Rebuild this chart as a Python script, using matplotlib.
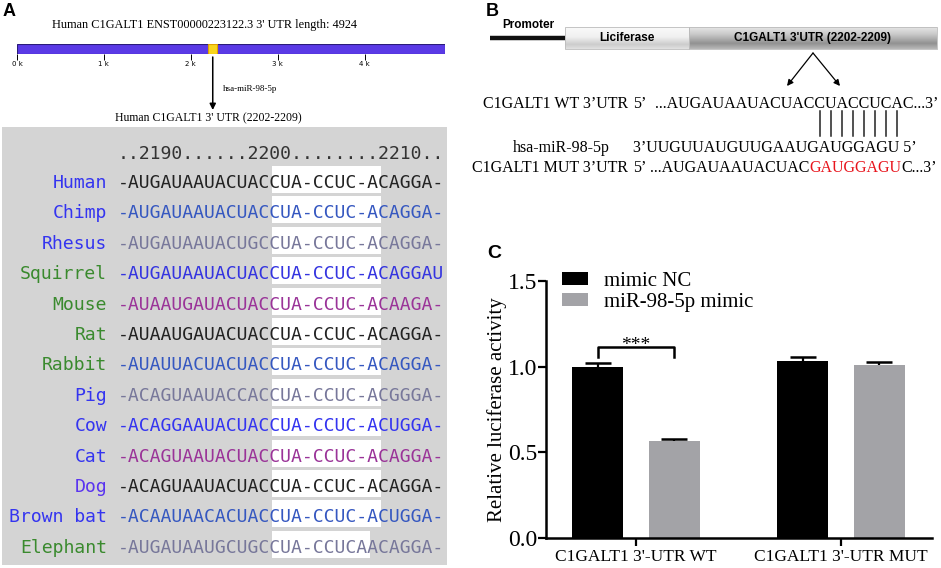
import numpy as np
import matplotlib
matplotlib.use("Agg")
import matplotlib.pyplot as plt
from matplotlib.patches import Rectangle

# ---- panel A data
utr_length = 4924
site_start, site_end = 2202, 2209
utr_ticks = [0, 1000, 2000, 3000, 4000]
utr_tick_labels = ["0 k", "1 k", "2 k", "3 k", "4 k"]

position_header = "..2190......2200........2210.."
species = ["Human", "Chimp", "Rhesus", "Squirrel", "Mouse", "Rat", "Rabbit",
           "Pig", "Cow", "Cat", "Dog", "Brown bat", "Elephant"]
sequences = [
    "-AUGAUAAUACUACCUA-CCUC-ACAGGA-",
    "-AUGAUAAUACUACCUA-CCUC-ACAGGA-",
    "-AUGAUAAUACUGCCUA-CCUC-ACAGGA-",
    "-AUGAUAAUACUACCUA-CCUC-ACAGGAU",
    "-AUAAUGAUACUACCUA-CCUC-ACAAGA-",
    "-AUAAUGAUACUACCUA-CCUC-ACAGGA-",
    "-AUAUUACUACUACCUA-CCUC-ACAGGA-",
    "-ACAGUAAUACCACCUA-CCUC-ACGGGA-",
    "-ACAGGAAUACUACCUA-CCUC-ACUGGA-",
    "-ACAGUAAUACUACCUA-CCUC-ACAGGA-",
    "-ACAGUAAUACUACCUA-CCUC-ACAGGA-",
    "-ACAAUAACACUACCUA-CCUC-ACUGGA-",
    "-AUGAUAAUGCUGCCUA-CCUCAACAGGA-",
]
highlight_start = 14
highlight_end = [24, 24, 24, 24, 24, 24, 24, 24, 24, 24, 24, 24, 23]
name_colors = ["#3434f0", "#3434f0", "#3434f0", "#3a8a2e", "#3a8a2e", "#3a8a2e",
               "#3a8a2e", "#3434f0", "#3434f0", "#3434f0", "#5a34f0", "#3434f0",
               "#3a8a2e"]
seq_colors = ["#222222", "#3557c0", "#77779a", "#3434e0", "#9a3398", "#222222",
              "#3557c0", "#77779a", "#3434f0", "#9a3398", "#222222", "#3557c0",
              "#77779a"]

# ---- panel B data
wt_prefix, wt_site, wt_suffix = "...AUGAUAAUACUAC", "CUACCUCA", "C...3\u2019"
mir_prefix, mir_site, mir_suffix = "3\u2019UUGUUAUGUUGAAU", "GAUGGAGU", " 5\u2019"
mut_prefix, mut_site, mut_suffix = "...AUGAUAAUACUAC", "GAUGGAGU", "C...3\u2019"

# ---- panel C data
groups = ["C1GALT1 3'-UTR WT", "C1GALT1 3'-UTR MUT"]
series = ["mimic NC", "miR-98-5p mimic"]
nc_mean = [1.00, 1.035]
nc_err = [0.02, 0.022]
mimic_mean = [0.565, 1.01]
mimic_err = [0.015, 0.02]

W, H = 941, 568
fig = plt.figure(figsize=(W / 100, H / 100), dpi=100)
renderer = fig.canvas.get_renderer()

# overlay axes in pixel units for panels A and B
ov = fig.add_axes([0, 0, 1, 1])
ov.set_xlim(0, W)
ov.set_ylim(H, 0)
ov.axis("off")

mono = "DejaVu Sans Mono"
serif = "Liberation Serif"
sans = "Liberation Sans"


def text_w(s, **kw):
    t = ov.text(0, 0, s, **kw)
    w = t.get_window_extent(renderer).width
    t.remove()
    return w


# ================= panel A =================
ov.text(3, 11, "A", fontsize=13, fontweight="bold", family=sans, va="center")
ov.text(205, 25, "Human C1GALT1 ENST00000223122.3 3' UTR length: 4924",
        fontsize=8.8, family=serif, ha="center", va="center")

bar_x0, bar_x1 = 17, 445
ax_utr = fig.add_axes([bar_x0 / W, 1 - 54 / H, (bar_x1 - bar_x0) / W, 10 / H])
ax_utr.set_xlim(0, utr_length)
ax_utr.set_ylim(0, 1)
ax_utr.barh(0.5, utr_length, height=1, color="#5a3ae6", edgecolor="#2a1c7a", lw=0.8)
box_w = 100
ax_utr.barh(0.5, box_w, left=site_start, height=1, color="#f8d51c",
            edgecolor="#e0a000", lw=0.8)
for s in ax_utr.spines.values():
    s.set_visible(False)
ax_utr.set_yticks([])
ax_utr.set_xticks(utr_ticks)
ax_utr.set_xticklabels(utr_tick_labels, family="DejaVu Sans", fontsize=5)
ax_utr.tick_params(axis="x", length=4, width=0.7, pad=1)

arrow_x = bar_x0 + (site_start + box_w / 2) / utr_length * (bar_x1 - bar_x0)
ov.annotate("", xy=(arrow_x, 110), xytext=(arrow_x, 57),
            arrowprops=dict(arrowstyle="-|>", color="black", lw=1.1,
                            mutation_scale=9, shrinkA=0, shrinkB=0))
ov.text(223, 89, "hsa-miR-98-5p", fontsize=6.5, family=serif, va="center")
ov.text(208, 118, "Human C1GALT1 3' UTR (2202-2209)", fontsize=8.5,
        family=serif, ha="center", va="center")

ov.add_patch(Rectangle((2, 127), 445, 438, facecolor="#d4d4d4", edgecolor="none"))

seq_x = 118
char_w = 10.97
row0, row_step = 183, 30.4
fs_mono = 13.1
ov.text(seq_x, 154, position_header, family=mono, fontsize=fs_mono,
        color="#333333", va="center")
for i, (name, seq) in enumerate(zip(species, sequences)):
    y = row0 + i * row_step
    hx0 = seq_x + highlight_start * char_w
    hx1 = seq_x + highlight_end[i] * char_w
    ov.add_patch(Rectangle((hx0, y - 17), hx1 - hx0, 27, facecolor="white",
                           edgecolor="none"))
    ov.text(107, y, name, family=mono, fontsize=fs_mono, color=name_colors[i],
            ha="right", va="center")
    ov.text(seq_x, y, seq, family=mono, fontsize=fs_mono, color=seq_colors[i],
            va="center")

# ================= panel B =================
ov.text(486, 11, "B", fontsize=13, fontweight="bold", family=sans, va="center")
ov.plot([490, 565], [38, 38], color="#111111", lw=3.2, solid_capstyle="butt")
ov.text(528, 25, "Promoter", fontsize=8.5, fontweight="bold", family=sans,
        ha="center", va="center")


def grad_box(x0, x1, y0, y1, stops, vals):
    n = 60
    g = np.interp(np.linspace(0, 1, n), stops, vals)
    img = np.repeat(g[:, None], 2, axis=1)
    ov.imshow(img, cmap="gray", vmin=0, vmax=1, extent=(x0, x1, y1, y0),
              origin="upper", aspect="auto", interpolation="bilinear", zorder=1)
    ov.add_patch(Rectangle((x0, y0), x1 - x0, y1 - y0, facecolor="none",
                           edgecolor="#bbbbbb", lw=0.6, zorder=2))


grad_box(565, 689, 27, 49, [0, 0.45, 0.8, 1], [0.98, 0.94, 0.80, 0.88])
grad_box(689, 937, 27, 49, [0, 0.3, 0.75, 1], [0.90, 0.80, 0.57, 0.72])
ov.set_xlim(0, W)
ov.set_ylim(H, 0)
ov.text(627, 38, "Liciferase", fontsize=8.5, fontweight="bold", family=sans,
        ha="center", va="center", zorder=3)
ov.text(813, 38, "C1GALT1 3'UTR (2202-2209)", fontsize=8.5, fontweight="bold",
        family=sans, ha="center", va="center", zorder=3)
for xe in (787, 840):
    ov.annotate("", xy=(xe, 86), xytext=(813, 53),
                arrowprops=dict(arrowstyle="-|>", color="black", lw=0.9,
                                mutation_scale=9, shrinkA=0, shrinkB=0))

fs_b = 11.5
tkw = dict(family=serif, fontsize=fs_b, va="center")

y_wt, y_mir, y_mut = 104, 148, 168
ov.text(483, y_wt, "C1GALT1 WT 3\u2019UTR", **tkw)
ov.text(633, y_wt, "5\u2019", **tkw)
x0 = 655
ov.text(x0, y_wt, wt_prefix + wt_site + wt_suffix, **tkw)
for k in range(len(wt_site)):
    end = text_w(wt_prefix + wt_site[:k + 1], **tkw)
    cx = x0 + end - text_w(wt_site[k], **tkw) / 2
    ov.plot([cx, cx], [111, 136], color="#222222", lw=1.1)

ov.text(513, y_mir, "hsa-miR-98-5p", **tkw)
ov.text(633, y_mir, mir_prefix + mir_site + mir_suffix, **tkw)

ov.text(472, y_mut, "C1GALT1 MUT 3\u2019UTR", **tkw)
ov.text(633, y_mut, "5\u2019", **tkw)
x0 = 650
ov.text(x0, y_mut, mut_prefix, **tkw)
xs = x0 + text_w(mut_prefix + mut_site, **tkw) - text_w(mut_site, **tkw)
ov.text(xs, y_mut, mut_site, color="#e8141c", **tkw)
xs = x0 + text_w(mut_prefix + mut_site + mut_suffix, **tkw) - text_w(mut_suffix, **tkw)
ov.text(xs, y_mut, mut_suffix, **tkw)

# ================= panel C =================
ov.text(487, 253, "C", fontsize=14, fontweight="bold", family=sans, va="center")

axc = fig.add_axes([546 / W, 1 - 538 / H, (932 - 546) / W, (538 - 281) / H])
axc.set_facecolor("none")
x = np.arange(len(groups))
off, bw, capw = 0.187, 0.249, 0.127
b1 = axc.bar(x - off, nc_mean, bw, color="black", label=series[0])
b2 = axc.bar(x + off, mimic_mean, bw, color="#a3a3a7", label=series[1])
for xp, m, e in ((x - off, nc_mean, nc_err), (x + off, mimic_mean, mimic_err)):
    top = np.array(m) + np.array(e)
    axc.vlines(xp, m, top, color="black", lw=1.6)
    axc.hlines(top, xp - capw / 2, xp + capw / 2, color="black", lw=1.8)

# significance bracket for WT group
sig_top, sig_leg = 1.115, 1.055
axc.plot([x[0] - off, x[0] - off, x[0] + off, x[0] + off],
         [sig_leg, sig_top, sig_top, sig_leg], color="black", lw=1.8)
axc.text(x[0], sig_top - 0.04, "***", family=serif, fontsize=14,
         ha="center", va="bottom")

axc.set_xlim(-0.439, 1.444)
axc.set_ylim(0, 1.5)
axc.set_yticks([0, 0.5, 1.0, 1.5])
axc.set_yticklabels(["0.0", "0.5", "1.0", "1.5"], family=serif, fontsize=17)
axc.set_xticks(x)
axc.set_xticklabels(groups, family=serif, fontsize=12.5)
axc.spines["top"].set_visible(False)
axc.spines["right"].set_visible(False)
axc.spines["left"].set_linewidth(1.8)
axc.spines["bottom"].set_linewidth(1.8)
axc.tick_params(axis="y", length=6, width=1.6, pad=0)
axc.tick_params(axis="x", length=6, width=1.6, pad=2)
axc.set_ylabel("Relative luciferase activity", family=serif, fontsize=15)
axc.yaxis.set_label_coords(-0.10, 0.5)
axc.legend(handles=[b1, b2], loc="upper left",
           bbox_to_anchor=(562 / W, 1 - 272 / H), bbox_transform=fig.transFigure,
           frameon=False, prop=dict(family=serif, size=15), handlelength=1.25,
           handleheight=0.6, handletextpad=0.75, labelspacing=0.1,
           borderpad=0, borderaxespad=0)

fig.savefig("out.png", dpi=100)
